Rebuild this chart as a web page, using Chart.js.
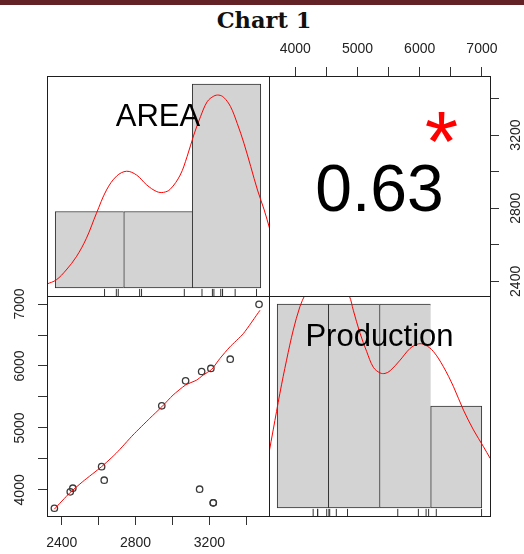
<!DOCTYPE html>
<html>
<head>
<meta charset="utf-8">
<script src="https://cdn.jsdelivr.net/npm/chart.js@4.4.1/dist/chart.umd.min.js"></script>
<style>
  body { margin: 0; background: #fff; }
  #wrap { position: relative; width: 524px; height: 554px; overflow: hidden; }
  #band { position: absolute; left: 0; top: 0; width: 524px; height: 5px; background: #622226; }
  #title { position: absolute; left: 2px; width: 524px; top: 9px; text-align: center;
           font: bold 22.5px 'DejaVu Serif', serif; line-height: 1; color: #111; }
  canvas { position: absolute; left: 0; top: 0; }
</style>
</head>
<body>
<div id="wrap">
  <div id="band"></div>
  <div id="title">Chart 1</div>
  <canvas id="c-tl" width="524" height="554"></canvas>
  <canvas id="c-tr" width="524" height="554"></canvas>
  <canvas id="c-bl" width="524" height="554"></canvas>
  <canvas id="c-br" width="524" height="554"></canvas>
</div>
<script>
const areaVals = [2360, 2446, 2460, 2616, 2630, 2942, 3071, 3147, 3158, 3208, 3221, 3221, 3313, 3469];
const prodVals = [3703, 3968, 4027, 4375, 4156, 5357, 5760, 4011, 5911, 5960, 3791, 3791, 6110, 6995];

// histogramas (cortes y conteos)
const areaBreaks = [2000, 2500, 3000, 3500];
const areaCounts = [3, 3, 8];
const prodBreaks = [3000, 4000, 5000, 6000, 7000];
const prodCounts = [4, 4, 4, 2];

// densidades (en unidades de conteo del histograma)
const areaDensX = [1939, 2007, 2080, 2154, 2227, 2301, 2374, 2448, 2521, 2594, 2668, 2741, 2790, 2839, 2912,
                   2962, 3011, 3060, 3109, 3157, 3194, 3230, 3279, 3328, 3377, 3427, 3476, 3525, 3564];
const areaDensY = [0.15, 0.31, 0.70, 1.22, 1.94, 2.93, 3.84, 4.39, 4.58, 4.43, 4.04, 3.78, 3.75, 3.87, 4.43,
                   5.15, 6.00, 6.72, 7.31, 7.53, 7.57, 7.48, 7.12, 6.46, 5.68, 4.76, 3.84, 3.06, 2.34];
const prodDensX = [2838, 2922, 3053, 3183, 3314, 3444, 3542, 3650, 3800, 3950, 4100, 4250, 4410, 4488, 4619,
                   4749, 4880, 5010, 5108, 5206, 5402, 5597, 5760, 5891, 6054, 6250, 6446, 6641, 6837, 7033, 7164];
const prodDensY = [1.07, 1.53, 2.25, 2.90, 3.49, 3.95, 4.18, 4.38, 4.50, 4.55, 4.52, 4.42, 4.16, 3.88, 3.43,
                   3.07, 2.76, 2.65, 2.64, 2.69, 2.90, 3.13, 3.22, 3.20, 3.07, 2.77, 2.38, 1.92, 1.53, 1.20, 0.97];

// curva suavizada del panel de dispersión
const loessX = [2360, 2442, 2514, 2616, 2695, 2786, 2877, 2942, 3003, 3070, 3130, 3166, 3212, 3257, 3311, 3384, 3474];
const loessY = [3689, 3947, 4134, 4375, 4591, 4886, 5155, 5341, 5530, 5691, 5771, 5852, 5944, 6121, 6308, 6523, 6899];

// ejes
const areaRange = [2320, 3523];
const prodRange = [3578, 7130];
const areaTicks = [2400, 2600, 2800, 3000, 3200, 3400];
const prodTicks = [4000, 4500, 5000, 5500, 6000, 6500, 7000];
const areaTickLabels = [2400, 2800, 3200];
const prodTickLabels = [4000, 5000, 6000, 7000];

const corrText = '0.63';
const sigText = '*';
const names = ['AREA', 'Production'];

// --- helpers ---------------------------------------------------------
const RED = '#ff0000';
const INK = '#222';
const tickFont = { family: "'Liberation Sans', Arial, sans-serif", size: 14 };
const pts = (xs, ys) => xs.map((x, i) => ({ x, y: ys[i] }));
const mids = b => b.slice(1).map((v, i) => (v + b[i]) / 2);
const setTicks = values => s => { s.ticks = values.map(value => ({ value })); };

const frame = {
  id: 'frame',
  afterDraw(chart) {
    const { ctx, chartArea: a } = chart;
    ctx.save();
    ctx.strokeStyle = '#1e1e1e';
    ctx.lineWidth = 1;
    ctx.strokeRect(Math.round(a.left) + 0.5, Math.round(a.top) + 0.5, Math.round(a.width), Math.round(a.height));
    ctx.restore();
  },
};

const panelText = {
  id: 'panelText',
  afterDatasetsDraw(chart, args, opts) {
    const { ctx, chartArea: a } = chart;
    (opts.items || []).forEach(it => {
      ctx.save();
      ctx.font = it.font;
      ctx.fillStyle = it.color || '#000';
      ctx.textAlign = 'center';
      ctx.textBaseline = 'alphabetic';
      const m = ctx.measureText(it.text);
      const x = a.left + a.width * it.fx;
      const y = a.top + a.height * it.fy + (m.actualBoundingBoxAscent - m.actualBoundingBoxDescent) / 2;
      ctx.fillText(it.text, x, y);
      ctx.restore();
    });
  },
};

function fixed(size) {
  return s => { if (s.isHorizontal()) s.height = size; else s.width = size; };
}

function shownAxis(position, range, ticks, labels, size, padding) {
  const vertical = position === 'left' || position === 'right';
  return {
    type: 'linear', position, min: range[0], max: range[1], offset: false,
    afterBuildTicks: setTicks(ticks),
    grid: { drawOnChartArea: false, drawTicks: true, tickLength: 9, tickColor: '#333', lineWidth: 1 },
    border: { display: false },
    ticks: {
      autoSkip: false, padding,
      minRotation: vertical ? 90 : 0, maxRotation: vertical ? 90 : 0,
      crossAlign: vertical ? 'center' : 'near',
      font: tickFont, color: INK,
      callback: v => (labels.includes(v) ? String(v) : ''),
    },
    afterFit: fixed(size),
  };
}

const base = {
  responsive: false, animation: false, devicePixelRatio: 1, events: [],
  plugins: { legend: { display: false }, tooltip: { enabled: false } },
};

function histPanel(id, padding, breaks, counts, vals, densX, densY, label) {
  const ymax = Math.max(...counts);
  const ymin = -0.04 * ymax, ytop = 1.04 * ymax;
  const span = breaks[breaks.length - 1] - breaks[0];
  const rugY = ymin + (ytop - ymin) * 0.016;
  const n = counts.length;
  return new Chart(document.getElementById(id), {
    type: 'bar',
    data: {
      datasets: [
        {
          data: pts(mids(breaks), counts), order: 3,
          backgroundColor: '#d3d3d3', borderColor: '#333', borderSkipped: false,
          borderWidth: c => ({ top: 1, bottom: 1, left: 1, right: c.dataIndex === n - 1 ? 1 : 0 }),
          barPercentage: 1, categoryPercentage: 1, grouped: false,
        },
        {
          type: 'line', data: pts(densX, densY), order: 2,
          borderColor: RED, borderWidth: 1, pointRadius: 0, tension: 0.35, fill: false,
        },
        {
          type: 'line', data: vals.map(v => ({ x: v, y: rugY })), order: 1, showLine: false,
          pointStyle: 'line', rotation: 90, pointRadius: 3.6, borderColor: '#333', borderWidth: 1,
        },
      ],
    },
    options: {
      ...base,
      layout: { padding },
      scales: {
        x: {
          type: 'linear', display: false, offset: false,
          min: breaks[0] - 0.04 * span, max: breaks[breaks.length - 1] + 0.04 * span,
          afterBuildTicks: setTicks(breaks),
        },
        y: { type: 'linear', display: false, min: ymin, max: ytop },
      },
      plugins: {
        ...base.plugins,
        panelText: { items: [{ text: label, fx: 0.5, fy: 0.175, font: "31px 'Liberation Sans', Arial, sans-serif" }] },
      },
    },
    plugins: [panelText, frame],
  });
}

// --- paneles -----------------------------------------------------------
histPanel('c-tl', { left: 47, top: 76, right: 255, bottom: 258 },
  areaBreaks, areaCounts, areaVals, areaDensX, areaDensY, names[0]);

histPanel('c-br', { left: 269, top: 296, right: 34, bottom: 38 },
  prodBreaks, prodCounts, prodVals, prodDensX, prodDensY, names[1]);

new Chart(document.getElementById('c-tr'), {
  type: 'scatter',
  data: { datasets: [{ data: [] }] },
  options: {
    ...base,
    layout: { padding: { left: 269, top: 0, right: 0, bottom: 258 } },
    scales: {
      x: shownAxis('top', prodRange, prodTicks, prodTickLabels, 76, 9),
      y: shownAxis('right', areaRange, areaTicks, areaTickLabels, 34, 2),
    },
    plugins: {
      ...base.plugins,
      panelText: {
        items: [
          { text: corrText, fx: 0.5, fy: 0.51, font: "66px 'Liberation Sans', Arial, sans-serif" },
          { text: sigText, fx: 0.781, fy: 0.234, font: "86px 'Liberation Sans', Arial, sans-serif", color: RED },
        ],
      },
    },
  },
  plugins: [panelText, frame],
});

new Chart(document.getElementById('c-bl'), {
  type: 'scatter',
  data: {
    datasets: [
      {
        type: 'line', data: pts(loessX, loessY), order: 1,
        borderColor: RED, borderWidth: 1, pointRadius: 0, tension: 0.2, fill: false,
      },
      {
        data: pts(areaVals, prodVals), order: 2,
        pointStyle: 'circle', pointRadius: 3.2, borderColor: '#3a3a3a', borderWidth: 1.3, backgroundColor: 'rgba(0,0,0,0)',
      },
    ],
  },
  options: {
    ...base,
    layout: { padding: { left: 0, top: 296, right: 255, bottom: 0 } },
    scales: {
      x: shownAxis('bottom', areaRange, areaTicks, areaTickLabels, 38, 10),
      y: shownAxis('left', prodRange, prodTicks, prodTickLabels, 47, 2),
    },
  },
  plugins: [frame],
});
</script>
</body>
</html>
